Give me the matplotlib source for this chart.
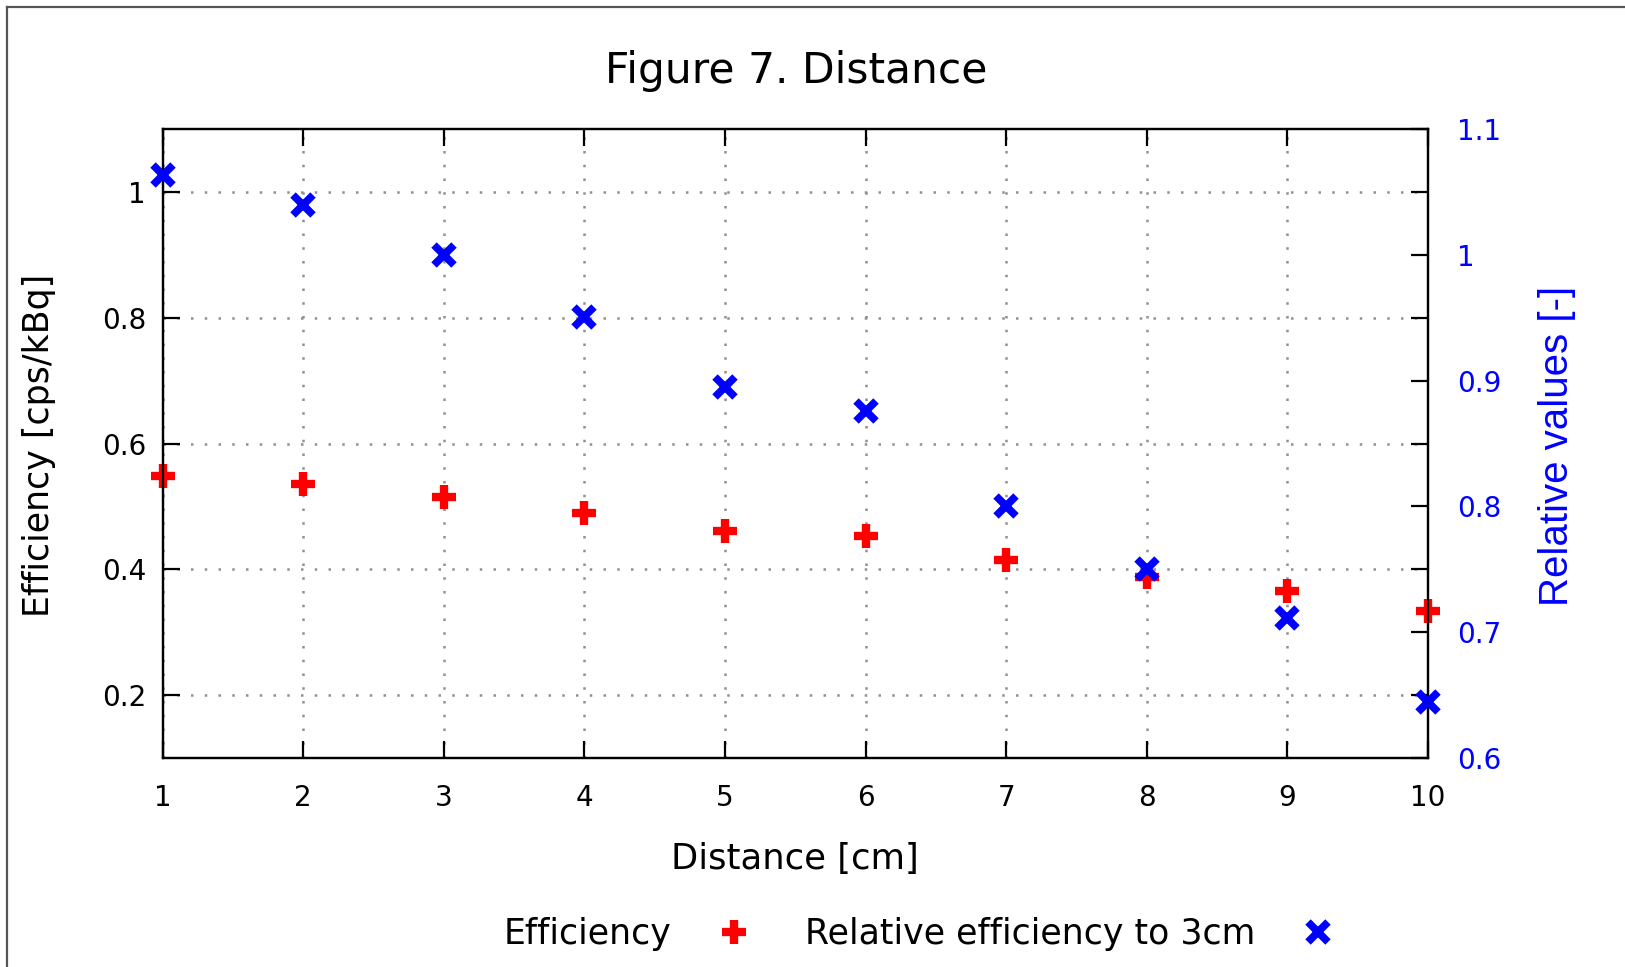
import matplotlib.pyplot as plt
from matplotlib.lines import Line2D
from matplotlib.ticker import FormatStrFormatter

# data
distance = [1, 2, 3, 4, 5, 6, 7, 8, 9, 10]
efficiency = [0.548, 0.535, 0.515, 0.489, 0.461, 0.453, 0.414, 0.388, 0.366, 0.334]
relative = [1.064, 1.040, 1.000, 0.951, 0.895, 0.876, 0.800, 0.750, 0.711, 0.644]

left_ticks = [0.2, 0.4, 0.6, 0.8, 1.0]
right_ticks = [0.6, 0.7, 0.8, 0.9, 1.0, 1.1]

plt.rcParams['font.family'] = 'DejaVu Sans'

fig = plt.figure(figsize=(16.25, 9.67), dpi=100)
ax = fig.add_axes([0.1001, 0.2165, 0.7787, 0.6496])
ax2 = ax.twinx()

plus_style = dict(linestyle='none', marker='+', color='red', ms=17, mew=6)
cross_style = dict(linestyle='none', marker='x', color='blue', ms=15, mew=5.5)

ax.plot(distance, efficiency, clip_on=False, zorder=3, **plus_style)
ax2.plot(distance, relative, clip_on=False, zorder=4, **cross_style)

ax.set_xlim(1, 10)
ax.set_ylim(0.1, 1.1)
ax2.set_ylim(0.6, 1.1)

ax.set_xticks(distance)
ax.set_yticks(left_ticks)
ax2.set_yticks(right_ticks)
ax.yaxis.set_major_formatter(FormatStrFormatter('%g'))
ax2.yaxis.set_major_formatter(FormatStrFormatter('%g'))

ax.grid(True, color='#909090', linestyle=(0, (1, 4.5)), linewidth=1.8)

for sp in list(ax.spines.values()) + list(ax2.spines.values()):
    sp.set_linewidth(1.6)
    sp.set_color('black')

ax.tick_params(axis='x', direction='in', length=12, width=1.6, top=True,
               labelsize=20, pad=19)
ax.tick_params(axis='y', direction='in', length=12, width=1.6, right=True,
               labelright=False, labelsize=20, pad=12)
ax2.tick_params(axis='y', direction='in', length=12, width=1.6,
                labelsize=20, pad=21, labelcolor='blue')

fig.text(0.49, 0.927, 'Figure 7. Distance', fontsize=30.5, ha='center', va='center')
fig.text(0.489, 0.112, 'Distance [cm]', fontsize=25.5, ha='center', va='center')
fig.text(0.024, 0.539, 'Efficiency [cps/kBq]', fontsize=25, rotation=90,
         ha='center', va='center')
fig.text(0.958, 0.539, 'Relative values [-]', fontsize=29, rotation=90,
         ha='center', va='center', color='blue', family='Liberation Sans')

handles = [Line2D([], [], **plus_style), Line2D([], [], **cross_style)]
fig.legend(handles, ['Efficiency', 'Relative efficiency to 3cm'],
           loc='center', bbox_to_anchor=(0.571, 0.034), ncol=2,
           markerfirst=False, frameon=False, fontsize=25,
           columnspacing=1.05, handletextpad=0.8)

# outer frame (only top and left edges visible)
fig.add_artist(Line2D([0.0043, 0.0043], [0, 0.9928], color='#555555', lw=1.6,
                      transform=fig.transFigure))
fig.add_artist(Line2D([0.0043, 1], [0.9928, 0.9928], color='#555555', lw=1.6,
                      transform=fig.transFigure))

fig.savefig('out.png', dpi=100)
